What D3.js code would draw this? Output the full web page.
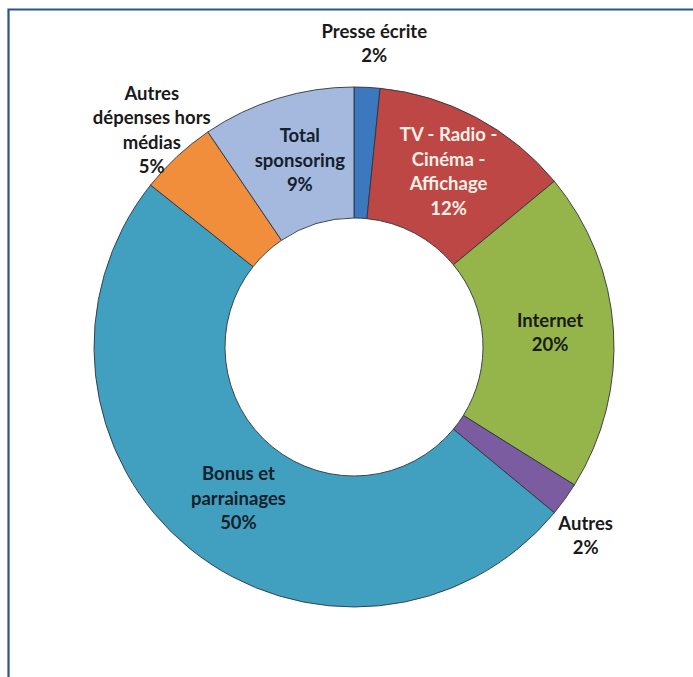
<!DOCTYPE html>
<html>
<head>
<meta charset="utf-8">
<script src="https://cdn.jsdelivr.net/npm/d3@7"></script>
<style>
  html, body { margin: 0; padding: 0; background: #fff; }
  svg { display: block; }
</style>
</head>
<body>
<svg id="chart" width="693" height="677"></svg>
<script>
// ---- data ----
const categories = ["Presse écrite", "TV - Radio - Cinéma - Affichage", "Internet", "Autres", "Bonus et parrainages", "Autres dépenses hors médias", "Total sponsoring"];
const labelLines = [["Presse écrite"], ["TV - Radio -", "Cinéma -", "Affichage"], ["Internet"], ["Autres"], ["Bonus et", "parrainages"], ["Autres", "dépenses hors", "médias"], ["Total", "sponsoring"]];
const values = [1.6, 12.4, 19.9, 2.1, 49.7, 4.8, 9.5];
const pctLabels = ["2%", "12%", "20%", "2%", "50%", "5%", "9%"];

// ---- styling ----
const colors = ["#3b78bd", "#bd4745", "#95b54a", "#7c5ca0", "#41a0bf", "#f08e3c", "#a5b8de"];
const textColors = ["#1a1a1a", "#f6f1e6", "#1a1a1a", "#1a1a1a", "#14202b", "#1a1a1a", "#14202b"];
// label placement: radius mode ("in" = mid-ring, number = outer radius + value) and small offsets
const labelPlace = [
  { r: 44, dx: 5, dy: 0 },
  { r: "in", dx: 3, dy: -4 },
  { r: "in", dx: 2, dy: -2 },
  { r: 38, dx: -10, dy: 14 },
  { r: "in", dx: 7, dy: 0 },
  { r: 36, dx: -1, dy: 0 },
  { r: "in", dx: 3, dy: -1 }
];

const svg = d3.select("#chart");
const cx = 354, cy = 347, R = 260, r0 = 129;

// frame
svg.append("path")
  .attr("d", "M8.5,677 V9.5 H693")
  .attr("fill", "none")
  .attr("stroke", "#2b5489")
  .attr("stroke-width", 2.2);

const g = svg.append("g").attr("transform", `translate(${cx},${cy})`);

const pie = d3.pie().value(d => d).sort(null).startAngle(0).endAngle(2 * Math.PI);
const arcs = pie(values);
const arc = d3.arc().innerRadius(r0).outerRadius(R);

g.selectAll("path.slice")
  .data(arcs)
  .join("path")
  .attr("class", "slice")
  .attr("d", arc)
  .attr("fill", (d, i) => colors[i])
  .attr("stroke", "#2e3640")
  .attr("stroke-width", 0.9);

const fontSize = 18.5, lineH = 24.5;
const labels = g.selectAll("text.lbl")
  .data(arcs)
  .join("text")
  .attr("class", "lbl")
  .attr("font-family", "Lato, 'Noto Sans', sans-serif")
  .attr("font-weight", "bold")
  .attr("font-size", fontSize)
  .attr("text-anchor", "middle")
  .attr("fill", (d, i) => textColors[i])
  .each(function(d, i) {
    const p = labelPlace[i];
    const mid = (d.startAngle + d.endAngle) / 2;
    const rr = p.r === "in" ? (R + r0) / 2 : R + p.r;
    const x = rr * Math.sin(mid) + p.dx;
    const y = -rr * Math.cos(mid) + p.dy;
    const lines = labelLines[i].concat([pctLabels[i]]);
    const top = y - (lines.length - 1) * lineH / 2;
    const t = d3.select(this);
    lines.forEach((ln, k) => {
      t.append("tspan")
        .attr("x", x)
        .attr("y", top + k * lineH + fontSize * 0.36)
        .text(ln);
    });
  });
</script>
</body>
</html>
